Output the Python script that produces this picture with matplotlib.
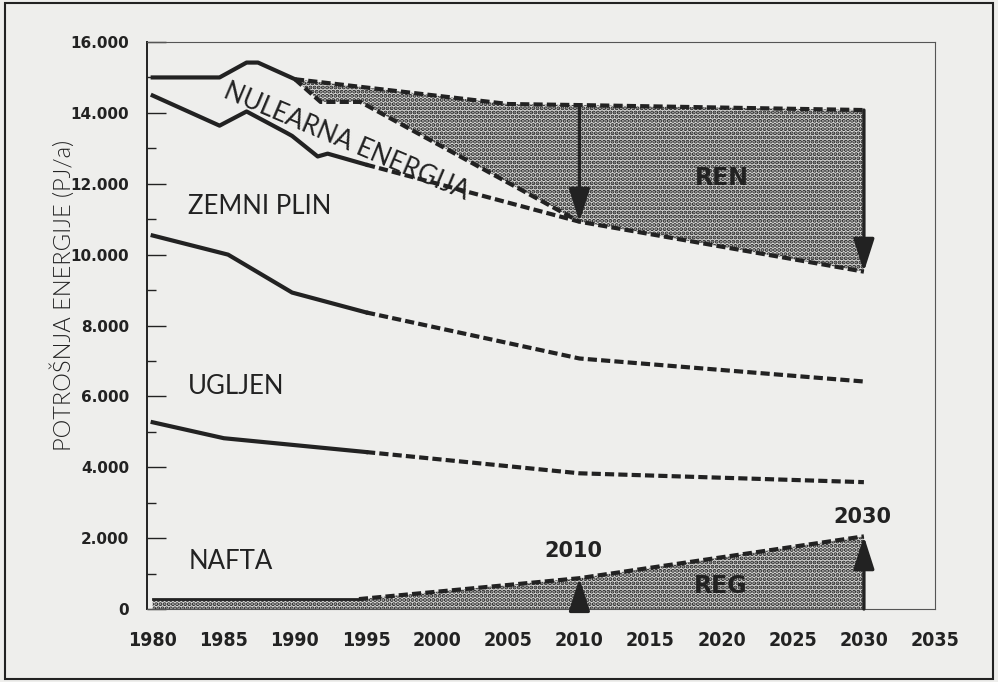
import numpy as np
import matplotlib.pyplot as plt
from matplotlib.patches import Rectangle

# -------------------------------
# Data (PJ/a)
# -------------------------------
# ukupno (gornja krivulja)
tot_hist_x = [1980, 1984.7, 1986.6, 1987.4, 1990]
tot_hist_y = [15000, 15000, 15420, 15420, 14950]
tot_proj_x = [1990, 2005, 2010, 2030]
tot_proj_y = [14950, 14250, 14220, 14080]

# donja granica REN (nuklearna energija izlazi do 2010)
ren_low_x = [1990, 1991.8, 1994.6, 2010]
ren_low_y = [14950, 14310, 14310, 10930]

# zemni plin (gornja granica)
gas_hist_x = [1980, 1984.7, 1986.6, 1989.4, 1989.8, 1991.6, 1992.3, 1995]
gas_hist_y = [14490, 13640, 14040, 13440, 13350, 12770, 12850, 12540]
gas_proj_x = [1995, 2010, 2030]
gas_proj_y = [12540, 10930, 9520]

# ugljen (gornja granica)
coal_hist_x = [1980, 1985.3, 1989.8, 1995]
coal_hist_y = [10540, 10000, 8930, 8370]
coal_proj_x = [1995, 2010, 2030]
coal_proj_y = [8370, 7070, 6420]

# nafta (gornja granica)
oil_hist_x = [1980, 1985, 1995]
oil_hist_y = [5270, 4820, 4430]
oil_proj_x = [1995, 2010, 2030]
oil_proj_y = [4430, 3830, 3580]

# REG (obnovljivi izvori)
reg_hist_x = [1980, 1994.5]
reg_hist_y = [280, 280]
reg_proj_x = [1994.5, 2010, 2030]
reg_proj_y = [280, 870, 2050]

x_ticks = [1980, 1985, 1990, 1995, 2000, 2005, 2010, 2015, 2020, 2025, 2030, 2035]
y_ticks = [0, 2000, 4000, 6000, 8000, 10000, 12000, 14000, 16000]
y_tick_labels = ["0", "2.000", "4.000", "6.000", "8.000", "10.000", "12.000", "14.000", "16.000"]

ink = "#222222"
paper = "#eeeeec"

fig = plt.figure(figsize=(9.98, 6.82), dpi=100, facecolor=paper)
ax = fig.add_axes([0.1473, 0.1070, 0.7896, 0.8314])
ax.set_facecolor(paper)

# -------------------------------
# Stippled areas (REN and REG)
# -------------------------------
plt.rcParams["hatch.linewidth"] = 2.0
ren_x = np.concatenate([tot_proj_x, gas_proj_x[::-1][:-1], ren_low_x[::-1]])
ren_y = np.concatenate([tot_proj_y, gas_proj_y[::-1][:-1], ren_low_y[::-1]])
ax.fill(ren_x, ren_y, facecolor="#d9d9d7", edgecolor=ink, linewidth=0,
        hatch="....", zorder=1)

reg_x = np.concatenate([reg_hist_x, reg_proj_x[1:], [reg_proj_x[-1], reg_hist_x[0]]])
reg_y = np.concatenate([reg_hist_y, reg_proj_y[1:], [0, 0]])
ax.fill(reg_x, reg_y, facecolor="#d9d9d7", edgecolor=ink, linewidth=0,
        hatch="....", zorder=1)

# -------------------------------
# Lines
# -------------------------------
solid = dict(color=ink, linewidth=3.0, solid_joinstyle="round", zorder=3)
dashed = dict(color=ink, linewidth=3.0, linestyle=(0, (2.2, 1.0)), zorder=3)

ax.plot(tot_hist_x, tot_hist_y, **solid)
ax.plot(tot_proj_x, tot_proj_y, **dashed)
ax.plot(ren_low_x, ren_low_y, **dashed)
ax.plot(gas_hist_x, gas_hist_y, **solid)
ax.plot(gas_proj_x, gas_proj_y, **dashed)
ax.plot(coal_hist_x, coal_hist_y, **solid)
ax.plot(coal_proj_x, coal_proj_y, **dashed)
ax.plot(oil_hist_x, oil_hist_y, **solid)
ax.plot(oil_proj_x, oil_proj_y, **dashed)
ax.plot(reg_hist_x, reg_hist_y, color=ink, linewidth=2.0, zorder=3)
ax.plot(reg_proj_x, reg_proj_y, **dashed)

# -------------------------------
# Arrows
# -------------------------------
arrow = dict(arrowstyle="-|>,head_length=1.0,head_width=0.32", color=ink, lw=2.4,
             mutation_scale=20, shrinkA=0, shrinkB=0)
ax.annotate("", xy=(2010, gas_proj_y[1]), xytext=(2010, tot_proj_y[2]),
            arrowprops=arrow, zorder=4)
ax.annotate("", xy=(2030, gas_proj_y[2]), xytext=(2030, tot_proj_y[3]),
            arrowprops=arrow, zorder=4)
ax.annotate("", xy=(2010, reg_proj_y[1]), xytext=(2010, 0),
            arrowprops=arrow, zorder=4)
ax.annotate("", xy=(2030, reg_proj_y[2]), xytext=(2030, 0),
            arrowprops=arrow, zorder=4)

# -------------------------------
# Labels in the plot
# -------------------------------
lab = dict(family=["Lato", "DejaVu Sans"], fontsize=18.5, color=ink)
ax.text(1982.5, 11350, "ZEMNI PLIN", ha="left", va="center", **lab)
ax.text(1982.5, 6290, "UGLJEN", ha="left", va="center", **lab)
ax.text(1982.5, 1340, "NAFTA", ha="left", va="center", **lab)
ax.text(1993.6, 13180, "NULEARNA ENERGIJA", ha="center", va="center",
        rotation=-23, rotation_mode="anchor", **lab)

bold = dict(family=["DejaVu Sans"], fontweight="bold", color=ink, zorder=5)
ax.text(2020.0, 12170, "REN", ha="center", va="center", fontsize=17, **bold)
ax.text(2019.9, 650, "REG", ha="center", va="center", fontsize=17, **bold)
ax.text(2009.6, 1630, "2010", ha="center", va="center", fontsize=15, **bold)
ax.text(2029.9, 2590, "2030", ha="center", va="center", fontsize=15, **bold)

# -------------------------------
# Axes
# -------------------------------
ax.set_xlim(1979.6, 2035)
ax.set_ylim(0, 16000)
ax.set_xticks(x_ticks)
ax.set_xticklabels([str(t) for t in x_ticks], family=["DejaVu Sans"],
                   fontstretch="condensed", fontsize=14, fontweight="bold", color=ink)
ax.set_yticks(y_ticks)
ax.set_yticklabels(y_tick_labels, family=["DejaVu Sans"], fontsize=11,
                   fontweight="bold", color=ink)
ax.set_yticks(np.arange(1000, 16000, 2000), minor=True)
ax.tick_params(axis="x", length=0, pad=16)
ax.tick_params(axis="y", which="major", direction="in", length=13.5, width=1.0,
               pad=13, color=ink)
ax.tick_params(axis="y", which="minor", direction="in", length=6.5, width=1.0,
               color=ink)

for side in ["top", "right", "bottom"]:
    ax.spines[side].set_linewidth(0.8)
    ax.spines[side].set_color("#555555")
ax.spines["left"].set_linewidth(1.4)
ax.spines["left"].set_color(ink)

ax.set_ylabel("POTROŠNJA ENERGIJE (PJ/a)", family=["Lato", "DejaVu Sans"],
              fontsize=17, fontweight=300, color=ink)
ax.yaxis.set_label_coords(-0.092, 0.553)

# frame around the whole picture
fig.patches.append(Rectangle((0.005, 0.005), 0.99, 0.99, transform=fig.transFigure,
                             fill=False, edgecolor=ink, linewidth=1.5))

plt.savefig("out.png", dpi=100, facecolor=paper)
plt.close()
